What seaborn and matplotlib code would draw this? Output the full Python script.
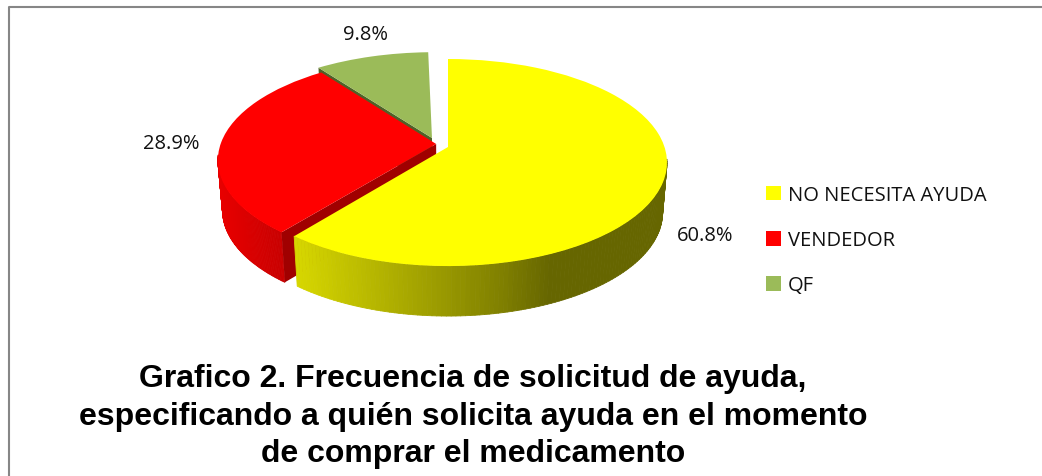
import numpy as np
import matplotlib
matplotlib.use("Agg")
import matplotlib.pyplot as plt
import seaborn as sns
from matplotlib.collections import PolyCollection
from matplotlib.colors import LinearSegmentedColormap
from matplotlib.transforms import Transform

sns.set_style("white")

# --- Data ---
categories = ["NO NECESITA AYUDA", "VENDEDOR", "QF"]
percentages = [60.8, 28.9, 9.8]
title_lines = ["Grafico 2. Frecuencia de solicitud de ayuda,",
               "especificando a quién solicita ayuda en el momento",
               "de comprar el medicamento"]

# --- Colors ---
slice_colors = sns.color_palette(["#FFFF00", "#FF0000", "#9BBB59"])
border_color = "#868686"
text_color = "#111111"
yellow_side = LinearSegmentedColormap.from_list(
    "yellow_side", [(0.0, "#D6D600"), (0.28, "#AAAA00"), (0.55, "#808000"), (0.68, "#666600"), (1.0, "#666600")])
red_side = LinearSegmentedColormap.from_list("red_side", ["#E80000", "#C80000"])

# --- Slice offsets in pie units ---
offsets = [(0.0, 0.0), (-0.055, 0.03), (-0.075, 0.09)]
depth = 50


def project(u, v, drop=0.0, shrink=1.0):
    # tilted pie seen in perspective, result in image pixels
    w = 1 + 0.15 * v
    return 448 + 216.5 * shrink * u / w, (148 - 79 * v) / w + drop


class TiltTransform(Transform):
    input_dims = 2
    output_dims = 2

    def transform_non_affine(self, values):
        x, y = project(values[:, 0], values[:, 1])
        return np.column_stack([x, y])


fig = plt.figure(figsize=(10.42, 4.77), dpi=100)
ax = fig.add_axes([0, 0, 1, 1])

wedges, _ = ax.pie([p / 100 for p in percentages], colors=slice_colors, startangle=90,
                   counterclock=False, normalize=False, frame=False)
ax.set_aspect("auto")
ax.set_xlim(0, 1042)
ax.set_ylim(477, 0)
ax.axis("off")

tilt = TiltTransform() + ax.transData
side_maps = [(yellow_side, 296, 667), (red_side, 219, 283)]
cut_colors = ["#A00000", "#4F6228"]

z = 2
# painter's order: QF, then VENDEDOR, then the big slice
for i in [2, 1, 0]:
    wedge, offset = wedges[i], offsets[i]
    wedge.set_center(offset)
    wedge.set_transform(tilt)
    wedge.set_linewidth(0)
    wedge.set_clip_on(False)

    # outer wall, only where the rim faces the viewer
    if i < 2:
        rim = np.radians(np.linspace(wedge.theta1, wedge.theta2, 200))
        rim = rim[np.sin(rim) < -0.1]
        u = offset[0] + np.cos(rim)
        v = offset[1] + np.sin(rim)
        top_x, top_y = project(u, v)
        low_x, low_y = project(u, v, depth, 0.98)
        quads = [[(top_x[k], top_y[k]), (top_x[k + 1], top_y[k + 1]),
                  (low_x[k + 1], low_y[k + 1]), (low_x[k], low_y[k])] for k in range(len(rim) - 1)]
        cmap, x0, x1 = side_maps[i]
        face = cmap((top_x[:-1] - x0) / (x1 - x0))
        ax.add_collection(PolyCollection(quads, facecolors=face, edgecolors=face, linewidths=0.6, zorder=z),
                          autolim=False)

    # cut face looking towards the viewer
    if i > 0:
        angle = np.radians(wedge.theta2)
        ends_u = np.array([offset[0], offset[0] + np.cos(angle)])
        ends_v = np.array([offset[1], offset[1] + np.sin(angle)])
        up = project(ends_u, ends_v)
        down = project(ends_u, ends_v, depth, 0.98)
        ax.fill([up[0][0], up[0][1], down[0][1], down[0][0]],
                [up[1][0], up[1][1], down[1][1], down[1][0]],
                color=cut_colors[i - 1], lw=0, zorder=z + 0.5)
    wedge.set_zorder(z + 1)
    z += 2

# --- Percent labels ---
label_spots = [(705, 236), (171, 144), (365, 35)]
for p, (lx, ly) in zip(percentages, label_spots):
    ax.text(lx, ly, f"{p:.1f}%", ha="center", va="center", fontsize=14.5,
            family="Open Sans", color=text_color, zorder=20)

# --- Legend ---
leg = ax.legend(wedges, categories, loc="upper left", bbox_to_anchor=(766, 186), bbox_transform=ax.transData,
                frameon=False, borderpad=0, borderaxespad=0, handlelength=0.75, handleheight=0.75,
                handletextpad=0.35, labelspacing=1.25, labelcolor=text_color,
                prop={"family": "Open Sans", "size": 14.5})

# --- Title ---
for line, ty in zip(title_lines, [379, 417, 454]):
    ax.text(473, ty, line, ha="center", va="center", fontsize=23, fontweight="bold",
            family="Liberation Sans", color="black", zorder=20)

# --- Border: left and top only ---
ax.plot([9, 9, 1042], [477, 8, 8], color=border_color, lw=1.5, clip_on=False, zorder=1)

fig.savefig("out.png", dpi=100)
